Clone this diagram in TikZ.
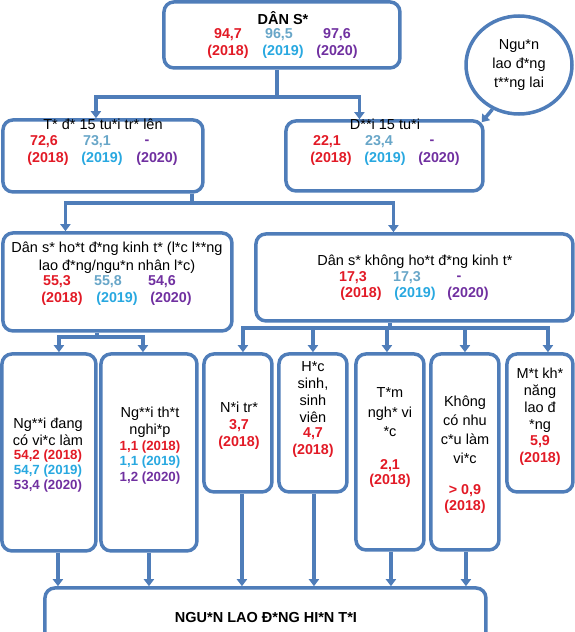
\documentclass[tikz,border=0pt]{standalone}
\usepackage{fontspec}
\setmainfont{Liberation Sans}
\usepackage{xcolor}
\usetikzlibrary{arrows.meta, shapes.geometric}

\definecolor{boxblue}{RGB}{79,125,185}
\definecolor{yrred}{RGB}{226,26,38}
\definecolor{yrblue}{RGB}{40,168,224}
\definecolor{numblue}{RGB}{104,166,200}
\definecolor{yrpurple}{RGB}{112,48,160}

\begin{document}
\begin{tikzpicture}[x=1pt, y=-1pt,
    box/.style={draw=boxblue, line width=3.5pt, rounded corners=10pt, inner sep=0pt, anchor=north west},
    lbl/.style={inner sep=0pt, align=center, font=\fontsize{14.5}{17}\selectfont},
    val/.style={inner sep=0pt, align=center, font=\fontsize{14.3}{16}\selectfont\bfseries},
    small/.style={inner sep=0pt, align=center, font=\fontsize{13.3}{15}\selectfont\bfseries},
    conn/.style={draw=boxblue, line width=3.5pt},
    arr/.style={conn, -{Triangle[width=10pt, length=7pt]}}]

    \useasboundingbox (0,0) rectangle (575,632);
    \clip (0,0) rectangle (575,632);

    % Boxes
    \node[box, minimum width=236pt, minimum height=66pt] (pop) at (162.2,0.2) {};
    \node[box, minimum width=200pt, minimum height=72pt] (adult) at (1.2,118.2) {};
    \node[box, minimum width=197pt, minimum height=70pt] (child) at (284.2,119.2) {};
    \node[draw=boxblue, line width=3.5pt, ellipse, minimum width=106pt, minimum height=98pt,
          inner sep=0pt, align=center, font=\fontsize{14.5}{19}\selectfont] (future) at (519,65)
          {Ngu*n\\lao đ*ng\\t**ng lai};
    \node[box, minimum width=229pt, minimum height=98pt] (active) at (1.2,231.2) {};
    \node[box, minimum width=317pt, minimum height=87pt] (inactive) at (254.2,232.2) {};
    \node[box, minimum width=94pt, minimum height=197pt] (emp) at (0.2,352.2) {};
    \node[box, minimum width=96pt, minimum height=197pt] (unemp) at (99.2,352.2) {};
    \node[box, minimum width=68pt, minimum height=138pt] (house) at (202.2,352.2) {};
    \node[box, minimum width=68pt, minimum height=138pt] (stud) at (277.2,352.2) {};
    \node[box, minimum width=68pt, minimum height=196pt] (seek) at (354.2,352.2) {};
    \node[box, minimum width=68pt, minimum height=196pt] (nowant) at (429.2,352.2) {};
    \node[box, minimum width=66pt, minimum height=138pt] (disab) at (505.2,352.2) {};
    \node[box, minimum width=441pt, minimum height=56pt] (labour) at (43.2,586.2) {};

    % Connectors
    \coordinate (j1) at (0,97);
    \draw[conn] ([xshift=-5pt]pop.south) coordinate (p1) -- (p1 |- j1) coordinate (s1);
    \draw[arr] (s1) -| ([xshift=-7pt]adult.north);
    \draw[arr] (s1) -| ([xshift=-25pt]child.north);
    \draw[arr] (future.239) -- ([xshift=-3pt, yshift=-3pt]child.north east);

    \coordinate (j2) at (0,203);
    \draw[conn] ([xshift=89pt]adult.south) coordinate (p2) -- (p2 |- j2) coordinate (s2);
    \draw[arr] (s2) -| ([xshift=-52pt]active.north);
    \draw[arr] (s2) -| ([xshift=-21pt]inactive.north);

    \coordinate (j3) at (0,337);
    \draw[conn] ([xshift=-20.5pt]active.south) coordinate (p3) -- (p3 |- j3) coordinate (s3);
    \draw[arr] (s3) -| ([xshift=10pt]emp.north);
    \draw[arr] (s3) -| ([xshift=-6pt]unemp.north);

    \coordinate (j4) at (0,328);
    \draw[conn] ([xshift=-24.5pt]inactive.south) coordinate (p4) -- (p4 |- j4) coordinate (s4);
    \foreach \n/\s in {house/5, stud/0, seek/-3, nowant/0, disab/8}
        \draw[arr] (s4) -| ([xshift=\s pt]\n.north);

    % Into the current labour force
    \foreach \n/\s in {emp/9, unemp/0, house/4, stud/1, seek/1, nowant/1}
        \draw[arr] ([xshift=\s pt]\n.south) coordinate (\n-out) -- (\n-out |- labour.north);

    % Titles
    \node[lbl, font=\fontsize{14.5}{17}\selectfont\bfseries] (popT) at (283,18) {DÂN S*};
    \node[lbl] (adultT) at (103,124) {T* đ* 15 tu*i tr* lên};
    \node[lbl] (childT) at (385,124) {D**i 15 tu*i};
    \node[lbl, font=\fontsize{14.5}{18}\selectfont] (activeT) at (117,258)
        {Dân s* ho*t đ*ng kinh t* (l*c l**ng\\lao đ*ng/ngu*n nhân l*c)};
    \node[lbl] (inactiveT) at (415,262) {Dân s* không ho*t đ*ng kinh t*};
    \node[lbl, font=\fontsize{14.5}{17}\selectfont\bfseries] (labourT) at (266,618) {NGU*N LAO Đ*NG HI*N T*I};

    % Values by year
    \foreach \x/\y/\col/\txt [count=\i] in {
        228/35/yrred/{94,7}, 279/35/numblue/{96,5}, 337/35/yrpurple/{97,6},
        228/52/yrred/{(2018)}, 283/52/yrblue/{(2019)}, 337/52/yrpurple/{(2020)},
        44/142/yrred/{72,6}, 97/142/numblue/{73,1}, 147/142/yrpurple/-,
        48/159/yrred/{(2018)}, 102/159/yrblue/{(2019)}, 157/159/yrpurple/{(2020)},
        327/142/yrred/{22,1}, 379/142/numblue/{23,4}, 432/142/yrpurple/-,
        331/159/yrred/{(2018)}, 385/159/yrblue/{(2019)}, 439/159/yrpurple/{(2020)},
        57/282/yrred/{55,3}, 108/282/numblue/{55,8}, 162/282/yrpurple/{54,6},
        62/299/yrred/{(2018)}, 117/299/yrblue/{(2019)}, 171/299/yrpurple/{(2020)},
        353/278/yrred/{17,3}, 407/278/numblue/{17,3}, 459/278/yrpurple/-,
        361/294/yrred/{(2018)}, 415/294/yrblue/{(2019)}, 470/294/yrpurple/{(2020)}
    }{
        \node[val, text=\col] (v\i) at (\x,\y) {\txt};
    }

    % Group texts
    \node[lbl] (empT) at (48,431.5) {Ng**i đang\\có vi*c làm};
    \node[small] (empV) at (48,471) {\textcolor{yrred}{54,2 (2018)}\\\textcolor{yrblue}{54,7 (2019)}\\\textcolor{yrpurple}{53,4 (2020)}};
    \node[lbl] (unempT) at (150,422.5) {Ng**i th*t\\nghi*p};
    \node[small] (unempV) at (150,462.5) {\textcolor{yrred}{1,1 (2018)}\\[0.5pt]\textcolor{yrblue}{1,1 (2019)}\\[0.5pt]\textcolor{yrpurple}{1,2 (2020)}};
    \node[lbl] (houseT) at (239,407) {N*i tr*};
    \node[val, text=yrred] (houseV) at (239,434.5) {3,7\\[1pt](2018)};
    \node[lbl] (studT) at (313,392) {H*c\\sinh,\\sinh\\viên};
    \node[val, text=yrred] (studV) at (313,442.5) {4,7\\[1pt](2018)};
    \node[lbl] (seekT) at (390,412.5) {T*m\\[2.5pt]ngh* vi\\[2.5pt]{}*c};
    \node[val, text=yrred] (seekV) at (390,473.5) {2,1\\[-1pt](2018)};
    \node[lbl] (nowantT) at (465,429.5) {Không\\[2pt]có nhu\\[2pt]c*u làm\\[2pt]vi*c};
    \node[val, text=yrred] (nowantV) at (465,499) {> 0,9\\(2018)};
    \node[lbl] (disabT) at (540,400) {M*t kh*\\năng\\lao đ\\{}*ng};
    \node[val, text=yrred] (disabV) at (540,450.5) {5,9\\[1pt](2018)};

\end{tikzpicture}
\end{document}
